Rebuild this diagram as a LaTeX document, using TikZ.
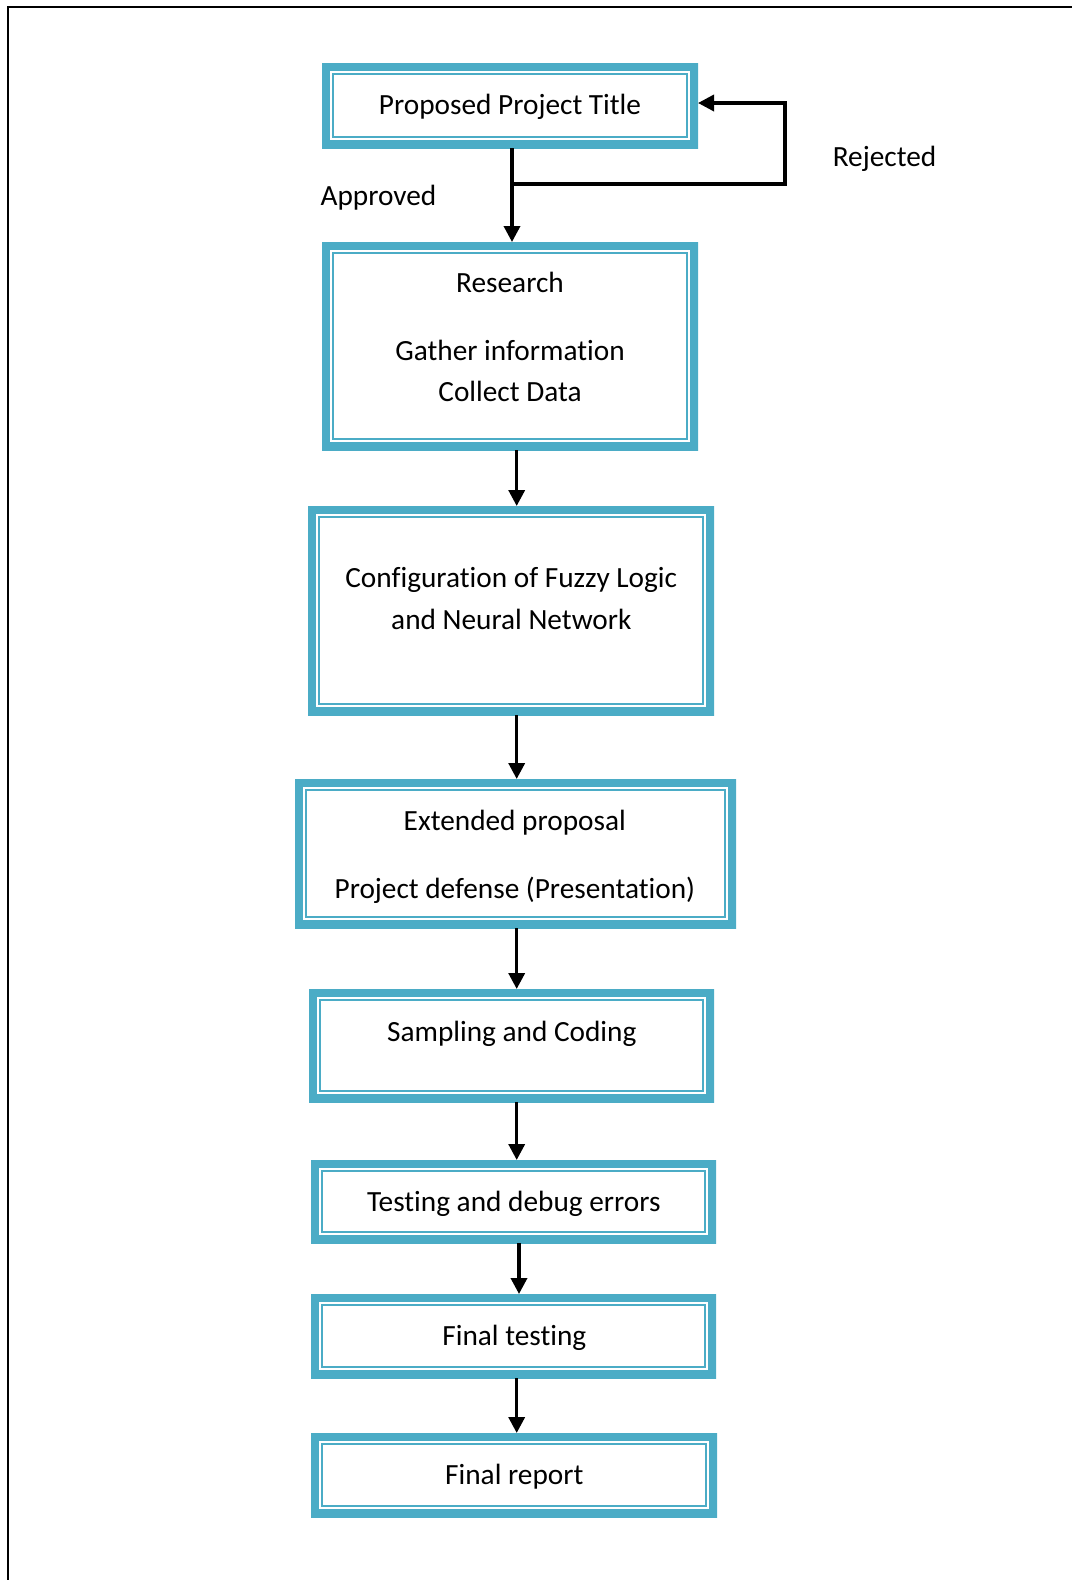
\documentclass[tikz,border=0pt]{standalone}
\usepackage{fontspec}
\setmainfont{Carlito}[Ligatures=NoCommon]
\usetikzlibrary{arrows.meta}

\definecolor{band}{HTML}{4BACC6}

\tikzset{
  stage/.style={
    rectangle, draw=none, fill=white, inner sep=0pt, outer sep=0pt,
    path picture={
      \draw[line width=16pt, band]
        (path picture bounding box.south west) rectangle
        (path picture bounding box.north east);
      \draw[line width=2.5pt, band]
        ([shift={(11.2pt,11.2pt)}]path picture bounding box.south west) rectangle
        ([shift={(-11.2pt,-11.2pt)}]path picture bounding box.north east);
    }
  },
  lbl/.style={anchor=base, inner sep=0pt, font=\fontsize{29.3pt}{41pt}\selectfont},
  arr/.style={line width=3.5pt, -{Triangle[width=16pt,length=16pt]}}
}

\begin{document}
\begin{tikzpicture}[x=1pt, y=-1pt]
\useasboundingbox (0,0) rectangle (1072,1580);

% page frame (top and left edges)
\draw[line width=2.5pt] (8,1580) -- (8,7) -- (1072,7);

% stage boxes: centre, width, height
\node[stage, minimum width=376pt, minimum height=85pt]  (b1) at (510,105.5) {};
\node[stage, minimum width=376pt, minimum height=208pt] (b2) at (510,346)   {};
\node[stage, minimum width=406pt, minimum height=209pt] (b3) at (511,610.5) {};
\node[stage, minimum width=441pt, minimum height=149pt] (b4) at (515.5,853.5) {};
\node[stage, minimum width=405pt, minimum height=113pt] (b5) at (511.5,1045.5) {};
\node[stage, minimum width=405pt, minimum height=83pt]  (b6) at (513.5,1201.5) {};
\node[stage, minimum width=405pt, minimum height=84pt]  (b7) at (513.5,1336) {};
\node[stage, minimum width=406pt, minimum height=84pt]  (b8) at (514,1475) {};

% box texts
\node[lbl] (t1)  at (510,114.3) {Proposed Project Title};
\node[lbl] (t2a) at (510,292.5) {Research};
\node[lbl] (t2b) at (510,360.5) {Gather information};
\node[lbl] (t2c) at (510,401.5) {Collect Data};
\node[lbl] (t3a) at (511.3,587.5) {Configuration of Fuzzy Logic};
\node[lbl] (t3b) at (511.3,629.5) {and Neural Network};
\node[lbl] (t4a) at (514.8,830.5) {Extended proposal};
\node[lbl] (t4b) at (514.8,898.5) {Project defense (Presentation)};
\node[lbl] (t5)  at (511.8,1041.5) {Sampling and Coding};
\node[lbl] (t6)  at (513.8,1211.5) {Testing and debug errors};
\node[lbl] (t7)  at (514.3,1345.5) {Final testing};
\node[lbl] (t8)  at (514.3,1484.5) {Final report};

% side labels
\node[lbl] (ap) at (378.5,205.5) {Approved};
\node[lbl] (rj) at (884.5,166.5) {Rejected};

% connector columns
\coordinate (xa) at (512,0);
\coordinate (xb) at (516.7,0);
\coordinate (xc) at (519,0);
\coordinate (jn) at (512,184);
\coordinate (lp) at (785,184);

% approve / reject decision
\draw[arr] (b1.south -| xa) -- (b2.north -| xa);
\draw[arr] (jn) -- (lp) |- ([yshift=2.5pt]b1.east);

% main flow
\draw[arr] (b2.south -| xb) -- (b3.north -| xb);
\draw[arr] (b3.south -| xb) -- (b4.north -| xb);
\draw[arr] (b4.south -| xb) -- (b5.north -| xb);
\draw[arr] (b5.south -| xb) -- (b6.north -| xb);
\draw[arr] (b6.south -| xc) -- (b7.north -| xc);
\draw[arr] (b7.south -| xb) -- (b8.north -| xb);
\end{tikzpicture}
\end{document}
